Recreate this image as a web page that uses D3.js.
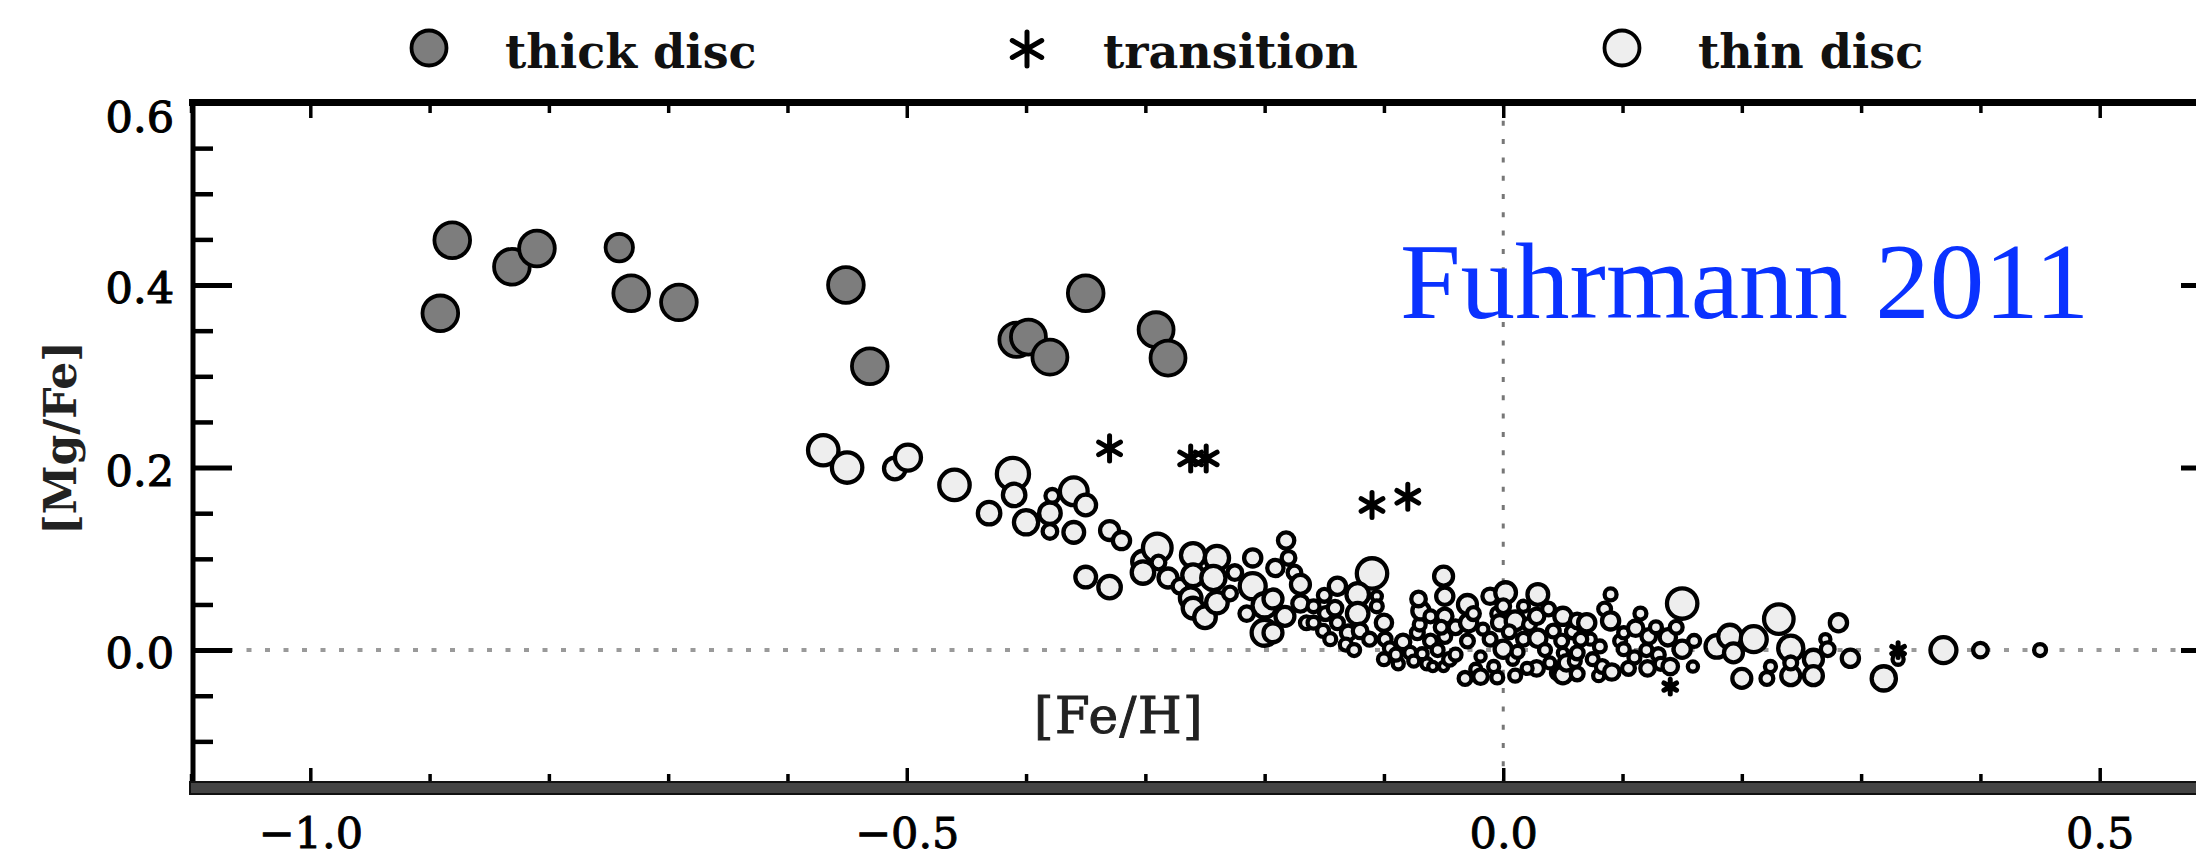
<!DOCTYPE html>
<html>
<head>
<meta charset="utf-8">
<script src="https://cdn.jsdelivr.net/npm/d3@7"></script>
<style>
  html, body { margin: 0; padding: 0; background: #fff; }
  svg { display: block; }
</style>
</head>
<body>
<svg id="chart" width="2196" height="858"></svg>
<script>
// [Fe/H] vs [Mg/Fe] for nearby stars, split into thick disc, transition and thin disc.
// Each entry: [Fe/H], [Mg/Fe], symbol size (relative units).
const thickDisc = [
  [-0.881, 0.449, 1.8], [-0.891, 0.369, 1.8], [-0.831, 0.420, 1.8],
  [-0.810, 0.440, 1.8], [-0.741, 0.441, 1.33], [-0.731, 0.391, 1.8],
  [-0.691, 0.381, 1.8], [-0.551, 0.400, 1.8], [-0.531, 0.311, 1.8],
  [-0.350, 0.391, 1.8], [-0.408, 0.340, 1.72], [-0.398, 0.343, 1.76],
  [-0.380, 0.321, 1.76], [-0.291, 0.351, 1.76], [-0.281, 0.320, 1.76]
];

const transition = [
  [-0.330, 0.221, 1.2], [-0.262, 0.210, 1.2], [-0.249, 0.210, 1.2],
  [-0.110, 0.159, 1.2], [-0.080, 0.168, 1.2], [0.140, -0.040, 0.6],
  [0.331, 0.000, 0.6]
];

const thinDisc = [
  [-0.570, 0.219, 1.5], [-0.550, 0.200, 1.5], [-0.510, 0.199, 1.0], [-0.499, 0.211, 1.25],
  [-0.460, 0.181, 1.5], [-0.431, 0.150, 1.05], [-0.411, 0.193, 1.6], [-0.410, 0.170, 1.05],
  [-0.400, 0.140, 1.15], [-0.380, 0.150, 1.0], [-0.378, 0.169, 0.55], [-0.380, 0.130, 0.6],
  [-0.360, 0.174, 1.35], [-0.350, 0.159, 0.95], [-0.360, 0.129, 0.95], [-0.350, 0.080, 0.95],
  [-0.330, 0.131, 0.85], [-0.320, 0.120, 0.75], [-0.330, 0.069, 1.05], [-0.302, 0.097, 1.0],
  [-0.290, 0.112, 1.4], [-0.289, 0.096, 0.55], [-0.302, 0.085, 1.05], [-0.281, 0.079, 0.85],
  [-0.271, 0.070, 0.6], [-0.260, 0.104, 1.15], [-0.260, 0.082, 1.0], [-0.240, 0.101, 1.15],
  [-0.243, 0.079, 1.15], [-0.262, 0.057, 1.0], [-0.260, 0.046, 0.95], [-0.250, 0.036, 1.0],
  [-0.240, 0.052, 1.0], [-0.229, 0.062, 0.55], [-0.225, 0.085, 0.6], [-0.215, 0.040, 0.6],
  [-0.210, 0.101, 0.75], [-0.210, 0.070, 1.25], [-0.200, 0.049, 1.15], [-0.200, 0.019, 1.25],
  [-0.191, 0.090, 0.7], [-0.182, 0.120, 0.7], [-0.180, 0.101, 0.55], [-0.175, 0.085, 0.55],
  [-0.170, 0.072, 0.85], [-0.170, 0.051, 0.7], [-0.193, 0.056, 0.85], [-0.183, 0.037, 0.85],
  [-0.193, 0.019, 0.85], [-0.165, 0.030, 0.5], [-0.159, 0.048, 0.45], [-0.159, 0.030, 0.45],
  [-0.150, 0.060, 0.5], [-0.149, 0.040, 0.5], [-0.151, 0.021, 0.45], [-0.145, 0.012, 0.45],
  [-0.139, 0.070, 0.75], [-0.141, 0.046, 0.6], [-0.139, 0.030, 0.5], [-0.130, 0.019, 0.6],
  [-0.132, 0.006, 0.45], [-0.125, 0.000, 0.45], [-0.110, 0.084, 1.5], [-0.122, 0.061, 1.05],
  [-0.122, 0.040, 1.0], [-0.106, 0.059, 0.35], [-0.106, 0.048, 0.45], [-0.120, 0.021, 0.6],
  [-0.112, 0.012, 0.5], [-0.100, 0.030, 0.7], [-0.099, 0.012, 0.5], [-0.100, -0.010, 0.45],
  [-0.095, 0.002, 0.45], [-0.088, -0.015, 0.4], [-0.084, 0.009, 0.6], [-0.078, -0.003, 0.45],
  [-0.072, 0.019, 0.5], [-0.070, 0.028, 0.45], [-0.069, 0.043, 0.75], [-0.071, 0.056, 0.6],
  [-0.064, -0.015, 0.4], [-0.061, 0.037, 0.45], [-0.061, 0.010, 0.5], [-0.059, -0.018, 0.3],
  [-0.050, -0.018, 0.3], [-0.050, 0.081, 0.85], [-0.049, 0.059, 0.75], [-0.049, 0.037, 0.65],
  [-0.049, 0.015, 0.5], [-0.052, 0.025, 0.5], [-0.068, -0.004, 0.4], [-0.090, -0.005, 0.45],
  [-0.075, -0.012, 0.4], [-0.055, 0.000, 0.45], [-0.045, -0.010, 0.5], [-0.040, -0.005, 0.45],
  [-0.040, 0.025, 0.55], [-0.030, 0.050, 0.85], [-0.029, 0.030, 0.75], [-0.030, 0.010, 0.5],
  [-0.025, 0.040, 0.5], [-0.032, -0.031, 0.5], [-0.023, -0.021, 0.4], [-0.019, -0.007, 0.35],
  [-0.019, -0.029, 0.6], [-0.011, 0.059, 0.65], [-0.005, 0.040, 0.45], [-0.005, -0.030, 0.45],
  [0.002, 0.063, 0.95], [0.000, 0.048, 0.55], [-0.003, 0.030, 0.65], [0.010, 0.032, 0.85],
  [0.000, 0.001, 0.75], [-0.011, 0.012, 0.5], [-0.017, 0.023, 0.4], [-0.008, -0.018, 0.4],
  [0.005, 0.020, 0.5], [0.008, -0.010, 0.4], [0.010, -0.028, 0.45], [0.012, -0.002, 0.45],
  [0.017, 0.012, 0.5], [0.017, 0.048, 0.4], [0.022, 0.028, 0.5], [0.029, 0.061, 0.95],
  [0.028, 0.037, 0.65], [0.029, 0.013, 0.75], [0.028, -0.020, 0.6], [0.020, -0.020, 0.4],
  [0.035, 0.000, 0.45], [0.038, 0.045, 0.5], [0.042, 0.021, 0.5], [0.045, -0.025, 0.45],
  [0.050, 0.037, 0.75], [0.049, 0.010, 0.5], [0.050, -0.003, 0.35], [0.050, -0.027, 0.75],
  [0.039, -0.014, 0.4], [0.053, -0.014, 0.65], [0.058, 0.020, 0.5], [0.062, -0.026, 0.5],
  [0.060, -0.012, 0.45], [0.062, 0.032, 0.6], [0.070, 0.030, 0.75], [0.062, -0.003, 0.5],
  [0.073, 0.012, 0.4], [0.065, 0.012, 0.5], [0.075, -0.010, 0.45], [0.081, 0.004, 0.45],
  [0.080, -0.028, 0.4], [0.083, -0.018, 0.5], [0.085, 0.045, 0.5], [0.090, 0.032, 0.75],
  [0.090, 0.061, 0.45], [0.091, -0.024, 0.65], [0.098, 0.010, 0.45], [0.101, 0.001, 0.45],
  [0.101, 0.019, 0.4], [0.105, -0.020, 0.5], [0.110, -0.008, 0.45], [0.111, 0.024, 0.65],
  [0.115, 0.040, 0.45], [0.120, 0.000, 0.45], [0.122, 0.015, 0.6], [0.121, -0.020, 0.6],
  [0.128, 0.025, 0.45], [0.130, -0.005, 0.5], [0.132, -0.015, 0.45], [0.138, 0.014, 0.7],
  [0.140, -0.018, 0.65], [0.145, 0.025, 0.5], [0.150, 0.001, 0.75], [0.150, 0.051, 1.5],
  [0.159, -0.018, 0.35], [0.160, 0.010, 0.45], [0.179, 0.004, 1.05], [0.190, 0.015, 1.1],
  [0.193, -0.003, 0.85], [0.210, 0.012, 1.25], [0.231, 0.034, 1.45], [0.241, 0.002, 1.2],
  [0.260, -0.010, 0.85], [0.270, 0.012, 0.35], [0.272, 0.001, 0.55], [0.281, 0.030, 0.75],
  [0.291, -0.009, 0.75], [0.200, -0.031, 0.85], [0.221, -0.031, 0.5], [0.241, -0.028, 0.85],
  [0.260, -0.028, 0.85], [0.241, -0.014, 0.5], [0.224, -0.018, 0.4], [0.319, -0.031, 1.15],
  [0.331, -0.010, 0.4], [0.369, 0.000, 1.25], [0.400, 0.000, 0.6], [0.450, 0.000, 0.45]
];

const legendLabels = ["thick disc", "transition", "thin disc"];
const xMajorTicks = [-1.0, -0.5, 0.0, 0.5];
const yMajorTicks = [0.0, 0.2, 0.4, 0.6];
const xLabel = "[Fe/H]";
const yLabel = "[Mg/Fe]";
const annotation = "Fuhrmann 2011";

const svg = d3.select("#chart");
const serif = "'DejaVu Serif', serif";

// Scales
const x = d3.scaleLinear().domain([-1.1, 0.6]).range([191, 2219]);
const y = d3.scaleLinear().domain([-0.15, 0.6]).range([787, 102.5]);
const r = d3.scaleLinear().domain([0, 1]).range([2, 10.8]);

const xMinor = d3.range(-11, 7).map(i => +(i / 10).toFixed(1)).filter(v => !xMajorTicks.includes(v));
const yAll = d3.range(-3, 13).map(i => +(i * 0.05).toFixed(2));
const yMinor = yAll.filter(v => !yMajorTicks.includes(v) && v !== -0.15);
const yMajorAll = yMajorTicks.concat([-0.15]);

// Reference lines at zero
svg.append("line")
  .attr("x1", x(-1.1)).attr("x2", x(0.6)).attr("y1", y(0)).attr("y2", y(0))
  .attr("stroke", "#9a9a9a").attr("stroke-width", 4).attr("stroke-dasharray", "5,13.5");
svg.append("line")
  .attr("x1", x(0)).attr("x2", x(0)).attr("y1", y(0.6)).attr("y2", y(-0.15))
  .attr("stroke", "#777").attr("stroke-width", 3).attr("stroke-dasharray", "5,13.3");

// Axis helper: tick marks drawn by d3 axes, domain path removed
function tickAxis(gen, tr, values, size, width, labels) {
  const g = svg.append("g").attr("transform", tr)
    .call(gen.tickValues(values).tickSize(size)
      .tickFormat(labels ? labels : () => ""));
  g.select(".domain").remove();
  g.selectAll(".tick line").attr("stroke", "#000").attr("stroke-width", width);
  return g;
}

// Bottom axis
tickAxis(d3.axisBottom(x), "translate(0,782)", xMinor, -8, 3.5);
const gxb = tickAxis(d3.axisBottom(x).tickPadding(35), "translate(0,782)", xMajorTicks, -14, 3.5,
  d => d === 0 ? "0.0" : d3.format(".1f")(d).replace("-", "\u2212"));
gxb.selectAll("text")
  .attr("font-family", serif).attr("font-size", 43).attr("fill", "#000")
  .attr("stroke", "#000").attr("stroke-width", 0.9).attr("text-anchor", "middle");

// Top axis
tickAxis(d3.axisTop(x), "translate(0,106)", xMinor, -7, 3.5);
tickAxis(d3.axisTop(x), "translate(0,106)", xMajorTicks, -12, 3.5);

// Left axis
tickAxis(d3.axisLeft(y), "translate(194,0)", yMinor, -19, 4.5);
const gyl = tickAxis(d3.axisLeft(y).tickPadding(20), "translate(194,0)", yMajorAll, -38, 5,
  d => d === -0.15 ? "" : d3.format(".1f")(d));
gyl.selectAll("text")
  .attr("font-family", serif).attr("font-size", 43).attr("fill", "#000")
  .attr("stroke", "#000").attr("stroke-width", 1.1)
  .attr("y", d => Math.max(4, 118 - y(d)));

// Right axis
tickAxis(d3.axisRight(y), "translate(2219,0)", yMinor, -19, 4.5);
tickAxis(d3.axisRight(y), "translate(2219,0)", yMajorAll, -38, 5);

// Frame lines
svg.append("line").attr("x1", 189).attr("x2", 2219).attr("y1", y(0.6)).attr("y2", y(0.6))
  .attr("stroke", "#000").attr("stroke-width", 7);
svg.append("line").attr("x1", 193).attr("x2", 193).attr("y1", y(0.6)).attr("y2", y(-0.15))
  .attr("stroke", "#000").attr("stroke-width", 5);
svg.append("line").attr("x1", 2219).attr("x2", 2219).attr("y1", y(0.6)).attr("y2", y(-0.15))
  .attr("stroke", "#000").attr("stroke-width", 5);
svg.append("rect").attr("x", 190).attr("y", 782).attr("width", 2040).attr("height", 12)
  .attr("fill", "#444").attr("stroke", "#111").attr("stroke-width", 2);

// Star marker (asterisk made of three strokes)
function starPath(cx, cy, h) {
  const p = d3.path();
  [90, 30, -30].forEach(a => {
    const t = a * Math.PI / 180;
    p.moveTo(cx - h * Math.cos(t), cy - h * Math.sin(t));
    p.lineTo(cx + h * Math.cos(t), cy + h * Math.sin(t));
  });
  return p.toString();
}

// Thick disc
svg.append("g").selectAll("circle").data(thickDisc).join("circle")
  .attr("cx", d => x(d[0])).attr("cy", d => y(d[1])).attr("r", d => r(d[2]))
  .attr("fill", "#7d7d7d").attr("stroke", "#000").attr("stroke-width", 3.8);

// Thin disc
svg.append("g").selectAll("circle").data(thinDisc).join("circle")
  .attr("cx", d => x(d[0])).attr("cy", d => y(d[1])).attr("r", d => r(d[2]))
  .attr("fill", "#eeeeee").attr("stroke", "#000").attr("stroke-width", 4.3);

// Transition stars
svg.append("g").selectAll("path").data(transition).join("path")
  .attr("d", d => starPath(x(d[0]), y(d[1]), r(d[2])))
  .attr("stroke", "#000").attr("stroke-width", 5).attr("stroke-linecap", "round").attr("fill", "none");

// Legend
const legend = svg.append("g");
const legendItems = [
  { label: legendLabels[0], mx: 429, tx: 505, kind: "thick" },
  { label: legendLabels[1], mx: 1027, tx: 1103, kind: "star" },
  { label: legendLabels[2], mx: 1622, tx: 1698, kind: "thin" }
];
legendItems.forEach(it => {
  if (it.kind === "star") {
    legend.append("path").attr("d", starPath(it.mx, 49, 17))
      .attr("stroke", "#000").attr("stroke-width", 5).attr("stroke-linecap", "round");
  } else {
    legend.append("circle").attr("cx", it.mx).attr("cy", 48).attr("r", 17.5)
      .attr("fill", it.kind === "thick" ? "#7d7d7d" : "#eeeeee")
      .attr("stroke", "#000").attr("stroke-width", 3.8);
  }
  legend.append("text").attr("x", it.tx).attr("y", 68)
    .attr("font-family", serif).attr("font-weight", "bold").attr("font-size", 46)
    .attr("fill", "#111").text(it.label);
});

// Axis titles
svg.append("text").attr("x", 1034).attr("y", 733)
  .attr("font-family", serif).attr("font-size", 50).attr("letter-spacing", 1.5)
  .attr("fill", "#222").attr("stroke", "#222").attr("stroke-width", 1).text(xLabel);
svg.append("text").attr("transform", "translate(76,438) rotate(-90)")
  .attr("text-anchor", "middle")
  .attr("font-family", serif).attr("font-weight", "bold").attr("font-size", 44)
  .attr("fill", "#222").text(yLabel);

// Annotation
svg.append("text").attr("x", 1400).attr("y", 318)
  .attr("font-family", "'Liberation Serif', 'Times New Roman', serif").attr("font-size", 109)
  .attr("fill", "#0a32ff").text(annotation);
</script>
</body>
</html>
